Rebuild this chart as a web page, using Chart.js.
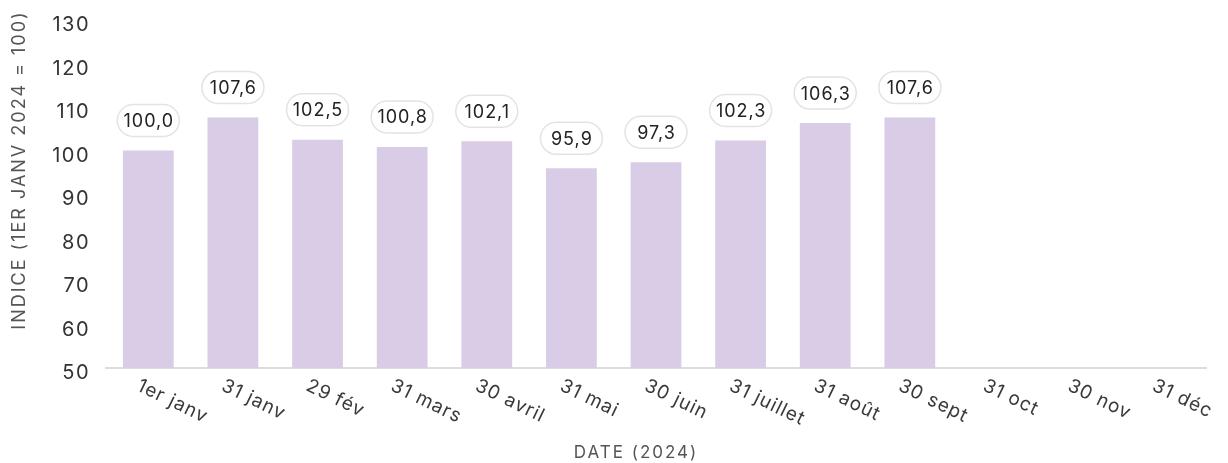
<!DOCTYPE html>
<html>
<head>
<meta charset="utf-8">
<script src="https://cdn.jsdelivr.net/npm/chart.js@4/dist/chart.umd.min.js"></script>
<style>
  html, body { margin: 0; padding: 0; background: #fff; }
  #wrap { width: 1228px; height: 463px; }
</style>
</head>
<body>
<div id="wrap"><canvas id="myChart" width="1228" height="463"></canvas></div>
<script>
// données
const dates = ['1er janv', '31 janv', '29 fév', '31 mars', '30 avril', '31 mai', '30 juin',
  '31 juillet', '31 août', '30 sept', '31 oct', '30 nov', '31 déc'];
const indice = [100.0, 107.6, 102.5, 100.8, 102.1, 95.9, 97.3, 102.3, 106.3, 107.6, null, null, null];
const yTicks = [50, 60, 70, 80, 90, 100, 110, 120, 130];

const FONT = 'Inter, "Liberation Sans", sans-serif';

// police un peu plus espacée, comme sur l'original
const spacing = {
  id: 'spacing',
  beforeDraw(chart) { chart.ctx.letterSpacing = '1.5px'; }
};

// étiquettes arrondies au-dessus des barres
const valueLabels = {
  id: 'valueLabels',
  afterDatasetsDraw(chart) {
    const ctx = chart.ctx;
    const meta = chart.getDatasetMeta(0);
    ctx.save();
    ctx.letterSpacing = '1px';
    ctx.font = '18px ' + FONT;
    ctx.textAlign = 'center';
    ctx.textBaseline = 'middle';
    meta.data.forEach((bar, i) => {
      const v = indice[i];
      if (v === null) return;
      const txt = v.toFixed(1).replace('.', ',');
      const w = Math.max(ctx.measureText(txt).width + 10, 62);
      const h = 32;
      const bottom = bar.y - 14;
      ctx.beginPath();
      ctx.roundRect(bar.x - w / 2, bottom - h, w, h, 16);
      ctx.fillStyle = '#ffffff';
      ctx.fill();
      ctx.lineWidth = 1.5;
      ctx.strokeStyle = '#e3e3e3';
      ctx.stroke();
      ctx.fillStyle = '#222222';
      ctx.fillText(txt, bar.x + 0.5, bottom - h / 2 + 1);
    });
    ctx.restore();
  }
};

// libellés de dates inclinés vers le bas et titres d'axes
const axisText = {
  id: 'axisText',
  afterDraw(chart) {
    const ctx = chart.ctx;
    const x = chart.scales.x;
    ctx.save();
    ctx.letterSpacing = '1px';
    ctx.font = '19px ' + FONT;
    ctx.fillStyle = '#3a3a3a';
    ctx.textAlign = 'left';
    ctx.textBaseline = 'top';
    dates.forEach((d, i) => {
      const px = x.getPixelForValue(i);
      ctx.save();
      ctx.translate(px - 6, x.top + 8);
      ctx.rotate(26 * Math.PI / 180);
      ctx.fillText(d, 0, 0);
      ctx.restore();
    });

    ctx.letterSpacing = '2px';
    ctx.font = '17px ' + FONT;
    ctx.fillStyle = '#555555';
    ctx.textAlign = 'center';
    ctx.textBaseline = 'middle';
    ctx.fillText('DATE (2024)', 636, 453);

    ctx.font = '18px ' + FONT;
    ctx.translate(20, 170);
    ctx.rotate(-Math.PI / 2);
    ctx.fillText('INDICE (1ER JANV 2024 = 100)', 0, 0);
    ctx.restore();
  }
};

new Chart(document.getElementById('myChart'), {
  type: 'bar',
  data: {
    labels: dates,
    datasets: [{
      data: indice,
      backgroundColor: '#d8cce6',
      barPercentage: 0.6,
      categoryPercentage: 1.0
    }]
  },
  options: {
    responsive: false,
    animation: false,
    devicePixelRatio: 1,
    layout: { padding: { left: 0, right: 22, top: 20, bottom: 0 } },
    plugins: {
      legend: { display: false },
      tooltip: { enabled: false }
    },
    scales: {
      x: {
        grid: { display: false, drawTicks: false },
        border: { display: true, color: '#dddddd', width: 2 },
        ticks: { display: false },
        afterFit(scale) {
          scale.height = 95;
          scale.paddingLeft = 0;
          scale.paddingRight = 0;
        }
      },
      y: {
        min: 50,
        max: 130,
        afterBuildTicks(scale) { scale.ticks = yTicks.map(v => ({ value: v })); },
        grid: { display: false, drawTicks: false, tickLength: 0 },
        border: { display: false },
        ticks: {
          padding: 16,
          labelOffset: 5,
          color: '#333333',
          font: { family: FONT, size: 20 }
        },
        afterFit(scale) {
          scale.width = 106;
          scale.paddingTop = 0;
          scale.paddingBottom = 0;
        }
      }
    }
  },
  plugins: [spacing, valueLabels, axisText]
});
</script>
</body>
</html>
